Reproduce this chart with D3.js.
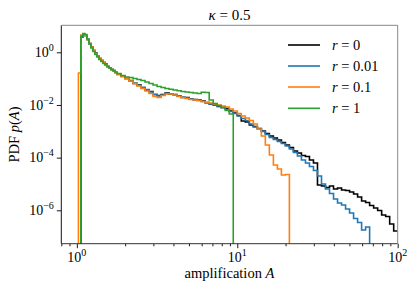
<!DOCTYPE html>
<html><head><meta charset="utf-8">
<script src="https://cdn.jsdelivr.net/npm/d3@7"></script>
<style>
body{margin:0;background:#fff}
svg{display:block}
</style>
</head><body>
<svg id="chart" width="415" height="290"></svg>
<script>
// ---- data ----
const binEdges = [1.023, 1.059, 1.090, 1.122, 1.155, 1.189, 1.223, 1.259, 1.296, 1.334, 1.372, 1.413, 1.454, 1.496, 1.540, 1.585, 1.631, 1.679, 1.728, 1.778, 1.884, 1.995, 2.113, 2.239, 2.371, 2.512, 2.661, 2.818, 2.985, 3.162, 3.350, 3.548, 3.758, 3.981, 4.217, 4.467, 4.732, 5.012, 5.309, 5.623, 5.957, 6.310, 6.683, 7.079, 7.499, 7.943, 8.414, 8.913, 9.441, 10.00, 10.59, 11.22, 11.89, 12.59, 13.34, 14.13, 14.96, 15.85, 16.79, 17.78, 18.84, 19.95, 21.13, 22.39, 23.71, 25.12, 26.61, 28.18, 29.85, 31.62, 33.50, 35.48, 37.58, 39.81, 42.17, 44.67, 47.32, 50.12, 53.09, 56.23, 59.57, 63.10, 66.83, 70.79, 74.99, 79.43, 84.14, 89.13, 94.41, 100.0];

const seriesLabels = ["0", "0.01", "0.1", "1"];
const seriesColors = ["#000000", "#1f77b4", "#ff7f0e", "#2ca02c"];

const pR0 = [null, 3.81, 4.74, 4.35, 3.06, 2.16, 1.590, 1.171, 0.940, 0.724, 0.581, 0.488, 0.410, 0.359, 0.289, 0.253, 0.222, 0.204, 0.171, 0.147, 0.126, 0.101, 0.0849, 0.0653, 0.0573, 0.0460, 0.0370, 0.0324, 0.0250, 0.0229, 0.0250, 0.0285, 0.0261, 0.0250, 0.0219, 0.0192, 0.0192, 0.0168, 0.0161, 0.0154, 0.0141, 0.0124, 0.01088, 0.00997, 0.00874, 0.00801, 0.00734, 0.00590, 0.00495, 0.00398, 0.00246, 0.00225, 0.00173, 0.00152, 0.00128, 0.00103, 0.000824, 0.000662, 0.000556, 0.000467, 0.000375, 0.000301, 0.000242, 0.000178, 0.000150, 0.000120, 0.000110, 8.12e-5, 6.25e-5, 9.12e-6, 8.36e-6, 7.33e-6, 8.36e-6, 6.43e-6, 7.02e-6, 5.89e-6, 5.64e-6, 4.94e-6, 4.15e-6, 3.19e-6, 2.25e-6, 1.97e-6, 1.52e-6, 1.22e-6, 9.81e-7, 6.62e-7, 5.80e-7, 3.01e-7, 1.63e-7];

const pR001 = [null, 3.81, 4.74, 4.35, 3.06, 2.16, 1.590, 1.171, 0.900, 0.724, 0.581, 0.488, 0.410, 0.344, 0.289, 0.253, 0.222, 0.195, 0.171, 0.1435, 0.1205, 0.101, 0.0813, 0.0682, 0.0548, 0.0460, 0.0387, 0.0311, 0.0250, 0.0219, 0.0239, 0.0272, 0.0261, 0.0239, 0.0219, 0.0201, 0.0184, 0.0168, 0.0154, 0.0148, 0.0135, 0.0119, 0.01088, 0.00997, 0.00913, 0.00801, 0.00672, 0.00564, 0.00474, 0.00381, 0.00306, 0.00257, 0.00189, 0.00146, 0.00122, 0.000982, 0.000755, 0.000581, 0.000488, 0.000410, 0.000344, 0.000276, 0.000212, 0.000157, 0.000115, 8.12e-5, 6.25e-5, 4.60e-5, 3.24e-5, 2.00e-5, 9.96e-6, 6.43e-6, 4.34e-6, 2.68e-6, 1.89e-6, 1.59e-6, 1.12e-6, 7.88e-7, 4.87e-7, 3.43e-7, 1.78e-7, 2.32e-7, 0];

const pR01 = [0.164, 4.54, 4.74, 4.35, 3.06, 2.16, 1.590, 1.171, 0.900, 0.724, 0.581, 0.488, 0.410, 0.344, 0.289, 0.253, 0.222, 0.195, 0.171, 0.1435, 0.1205, 0.101, 0.0813, 0.0653, 0.0525, 0.0422, 0.0339, 0.0272, 0.0210, 0.0192, 0.0229, 0.0261, 0.0261, 0.0239, 0.0210, 0.0192, 0.0176, 0.0161, 0.0154, 0.0148, 0.0135, 0.0124, 0.0119, 0.01088, 0.00997, 0.00913, 0.00837, 0.00702, 0.00590, 0.00474, 0.00381, 0.00320, 0.00257, 0.00189, 0.00122, 0.000662, 0.000301, 0.000126, 5.24e-5, 3.70e-5, 2.19e-5, 2.29e-5, 0];

const pR1 = [null, 4.16, 5.18, 4.74, 3.20, 2.07, 1.457, 1.072, 0.825, 0.663, 0.533, 0.447, 0.375, 0.329, 0.289, 0.253, 0.222, 0.204, 0.179, 0.157, 0.132, 0.115, 0.110, 0.101, 0.0927, 0.0849, 0.0745, 0.0653, 0.0573, 0.0502, 0.0460, 0.0422, 0.0393, 0.0370, 0.0348, 0.0324, 0.0311, 0.0297, 0.0285, 0.0272, 0.0303, 0.0297, 0.0154, 0.01136, 0.00954, 0.00801, 0.00616, 0.00454, 0];

const xMajorTicks = [1, 10, 100];
const xMajorExps = ["0", "1", "2"];
const xMinorTicks = [0.8, 0.9, 2, 3, 4, 5, 6, 7, 8, 9, 20, 30, 40, 50, 60, 70, 80, 90];
const yMajorTicks = [1, 1e-2, 1e-4, 1e-6];
const yMajorExps = ["0", "\u22122", "\u22124", "\u22126"];

// ---- layout ----
const FONT = "'Liberation Serif', 'DejaVu Serif', serif";
const L = 61.3, T = 25.3, W = 336.4, H = 218.4;
const svg = d3.select("#chart");
const x = d3.scaleLog().domain([0.8, 100]).range([0, W]);
const y = d3.scaleLog().domain([5.4e-8, 10.6]).range([H, 0]);

const g = svg.append("g").attr("transform", `translate(${L},${T})`);
g.append("clipPath").attr("id", "clip").append("rect").attr("width", W).attr("height", H);

const allSeries = [pR0, pR001, pR01, pR1];
function toPoints(vals) {
  const out = [];
  let last = -1;
  vals.forEach((v, i) => {
    if (v === null) return;
    if (out.length === 0) out.push([binEdges[i], 0]);
    out.push([binEdges[i], v]);
    last = i;
  });
  if (vals[last] !== 0) out.push([binEdges[last + 1], vals[last]]);
  return out;
}
const line = d3.line()
  .x(d => x(d[0]))
  .y(d => d[1] <= 0 ? H + 10 : y(d[1]))
  .curve(d3.curveStepAfter);

const lines = g.append("g").attr("clip-path", "url(#clip)");
allSeries.forEach((vals, i) => {
  lines.append("path")
    .attr("d", line(toPoints(vals)))
    .attr("fill", "none")
    .attr("stroke", seriesColors[i])
    .attr("stroke-width", 1.6)
    .attr("stroke-linejoin", "miter");
});

// axes ticks
const xMaj = d3.axisBottom(x).tickValues(xMajorTicks).tickSize(4.5).tickFormat("");
const xMin = d3.axisBottom(x).tickValues(xMinorTicks).tickSize(2.6).tickFormat("");
const yMaj = d3.axisLeft(y).tickValues(yMajorTicks).tickSize(4.5).tickFormat("");
[[xMaj, true], [xMin, true], [yMaj, false]].forEach(([ax, isX]) => {
  const a = g.append("g").attr("transform", isX ? `translate(0,${H})` : null).call(ax);
  a.select(".domain").remove();
  a.selectAll("line").attr("stroke", "#000").attr("stroke-width", 0.9);
});

// spines
g.append("line").attr("x1", 0).attr("x2", 0).attr("y1", 0).attr("y2", H).attr("stroke", "#111").attr("stroke-width", 1);
g.append("line").attr("x1", 0).attr("x2", W).attr("y1", H).attr("y2", H).attr("stroke", "#333").attr("stroke-width", 1);
g.append("line").attr("x1", 0).attr("x2", W).attr("y1", 0).attr("y2", 0).attr("stroke", "#888").attr("stroke-width", 1);
g.append("line").attr("x1", W).attr("x2", W).attr("y1", 0).attr("y2", H).attr("stroke", "#888").attr("stroke-width", 1);

// tick labels
const FS = 14;
xMajorTicks.forEach((v, i) => {
  const t = g.append("text").attr("x", x(v)).attr("y", H + 18.5)
    .attr("text-anchor", "middle").attr("font-size", FS).attr("font-family", FONT).attr("fill", "#000");
  t.append("tspan").text("10");
  t.append("tspan").attr("dy", -6).attr("font-size", 10).text(xMajorExps[i]);
});
yMajorTicks.forEach((v, i) => {
  const t = g.append("text").attr("x", -7.5).attr("y", y(v) + 4.6)
    .attr("text-anchor", "end").attr("font-size", FS).attr("font-family", FONT).attr("fill", "#000");
  t.append("tspan").text("10");
  t.append("tspan").attr("dy", -6).attr("font-size", 10).text(yMajorExps[i]);
});

// title
const title = svg.append("text").attr("x", L + W / 2).attr("y", 20)
  .attr("text-anchor", "middle").attr("font-size", 15).attr("font-family", FONT);
title.append("tspan").attr("font-style", "italic").text("\u03ba");
title.append("tspan").text(" = 0.5");

// axis labels
const xl = svg.append("text").attr("x", L + W / 2).attr("y", 278)
  .attr("text-anchor", "middle").attr("font-size", 14.5).attr("font-family", FONT);
xl.append("tspan").text("amplification ");
xl.append("tspan").attr("font-style", "italic").text("A");

const yl = svg.append("text").attr("transform", `translate(18.5,${T + H / 2}) rotate(-90)`)
  .attr("text-anchor", "middle").attr("font-size", 14.5).attr("font-family", FONT);
yl.append("tspan").text("PDF ");
yl.append("tspan").attr("font-style", "italic").text("p");
yl.append("tspan").text("(");
yl.append("tspan").attr("font-style", "italic").text("A");
yl.append("tspan").text(")");

// legend
const legendY = [45, 66, 87, 108.3];
seriesLabels.forEach((lab, i) => {
  svg.append("line").attr("x1", 288).attr("x2", 320).attr("y1", legendY[i]).attr("y2", legendY[i])
    .attr("stroke", seriesColors[i]).attr("stroke-width", 1.6);
  const t = svg.append("text").attr("x", 332).attr("y", legendY[i] + 4.8)
    .attr("font-size", 14.5).attr("font-family", FONT);
  t.append("tspan").attr("font-style", "italic").text("r");
  t.append("tspan").text(" = " + lab);
});
</script>
</body></html>
